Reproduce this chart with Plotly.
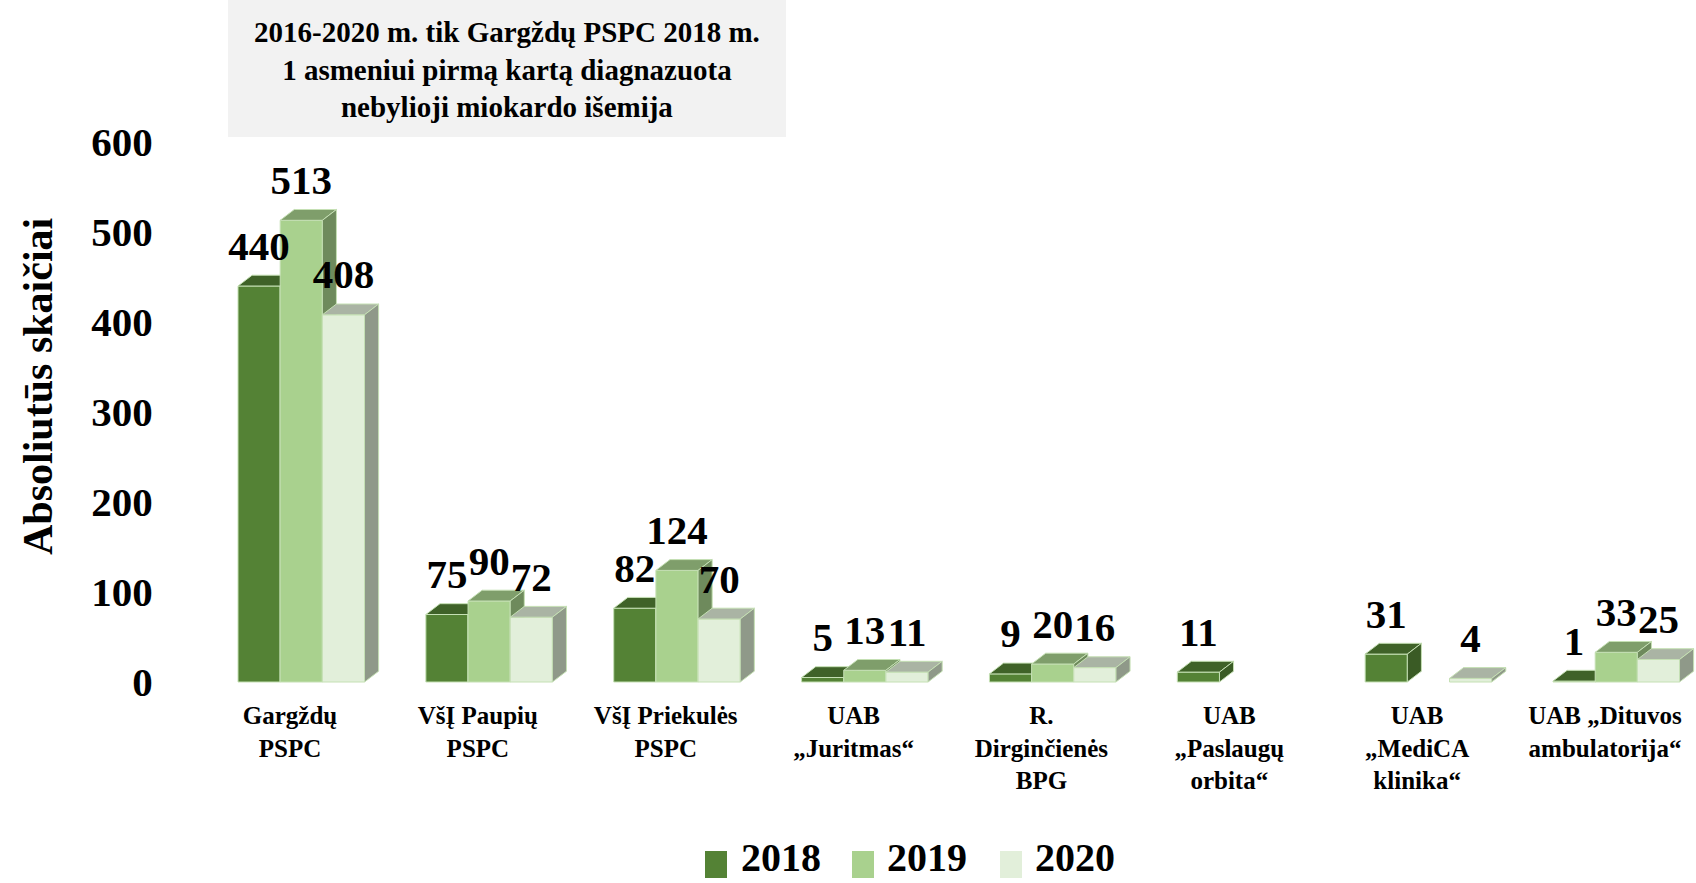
import plotly.graph_objects as go

# ---------------- data ----------------
categories = [
    "Gargždų<br>PSPC",
    "VšĮ Paupių<br>PSPC",
    "VšĮ Priekulės<br>PSPC",
    "UAB<br>„Juritmas“",
    "R.<br>Dirginčienės<br>BPG",
    "UAB<br>„Paslaugų<br>orbita“",
    "UAB<br>„MediCA<br>klinika“",
    "UAB „Dituvos<br>ambulatorija“",
]
years = ["2018", "2019", "2020"]
values_2018 = [440, 75, 82, 5, 9, 11, 31, 1]
values_2019 = [513, 90, 124, 13, 20, None, None, 33]
values_2020 = [408, 72, 70, 11, 16, None, 4, 25]
y_ticks = [0, 100, 200, 300, 400, 500, 600]

series = [values_2018, values_2019, values_2020]

# ---------------- style ----------------
FONT = "Liberation Serif, Times New Roman, serif"
front_colors = ["#548235", "#A9D18E", "#E2EFDA"]
top_colors = ["#3F6228", "#7F9E6B", "#AAB4A4"]
side_colors = ["#3A5B25", "#6E8A5C", "#8F9989"]
edge_color = "#C5E0B4"

bar_w = 0.2245          # width of one bar (category units)
group_shift = 0.06      # group centre relative to tick
depth_x = 0.075         # 3D depth, horizontal (category units)
depth_y = 12            # 3D depth, vertical (value units)
label_gap = 6           # extra gap above the bar top (value units)

fig = go.Figure()

for s, vals in enumerate(series):
    fx, fy, tx, ty, sx, sy = [], [], [], [], [], []
    for i, v in enumerate(vals):
        if v is None:
            continue
        x0 = i + group_shift + (s - 1.5) * bar_w
        x1 = x0 + bar_w
        # front face
        fx += [x0, x1, x1, x0, x0, None]
        fy += [0, 0, v, v, 0, None]
        # top face
        tx += [x0, x1, x1 + depth_x, x0 + depth_x, x0, None]
        ty += [v, v, v + depth_y, v + depth_y, v, None]
        # side face
        sx += [x1, x1 + depth_x, x1 + depth_x, x1, x1, None]
        sy += [0, depth_y, v + depth_y, v, 0, None]
    for xs, ys, col in ((fx, fy, front_colors[s]), (tx, ty, top_colors[s]), (sx, sy, side_colors[s])):
        fig.add_trace(go.Scatter(
            x=xs, y=ys, mode="lines", fill="toself", fillcolor=col,
            line=dict(color=edge_color, width=1), showlegend=False,
            hoverinfo="skip",
        ))

# data labels (drawn last so they sit on top)
for s, vals in enumerate(series):
    lx, ly, lt = [], [], []
    for i, v in enumerate(vals):
        if v is None:
            continue
        x0 = i + group_shift + (s - 1.5) * bar_w
        lx.append(x0 + bar_w / 2)
        ly.append(v + depth_y + label_gap)
        lt.append("<b>%d</b>" % v)
    fig.add_trace(go.Scatter(
        x=lx, y=ly, mode="text", text=lt, textposition="top center",
        textfont=dict(family=FONT, size=41, color="black"),
        showlegend=False, hoverinfo="skip", cliponaxis=False,
    ))

# ---------------- layout ----------------
L, R, T, B = 200, 0, 100, 193
W, H = 1696, 883
plot_w = W - L - R
plot_h = H - T - B


def px_x(p):
    return (p - L) / plot_w


def px_y(p):
    return (H - B - p) / plot_h


shapes = [
    dict(type="rect", xref="paper", yref="paper",
         x0=px_x(228), x1=px_x(786), y0=px_y(137), y1=px_y(0),
         fillcolor="#F2F2F2", line=dict(width=0), layer="below"),
]
annotations = [
    dict(xref="paper", yref="paper", x=px_x(507), y=px_y(70),
         text="<b>2016-2020 m. tik Gargždų PSPC 2018 m.<br>1 asmeniui pirmą kartą diagnazuota<br>nebylioji miokardo išemija</b>",
         showarrow=False, font=dict(family=FONT, size=29, color="black"),
         xanchor="center", yanchor="middle", align="center"),
    dict(xref="paper", yref="paper", x=px_x(38), y=px_y(386),
         text="<b>Absoliutūs skaičiai</b>", textangle=-90,
         showarrow=False, font=dict(family=FONT, size=42, color="black"),
         xanchor="center", yanchor="middle"),
]

legend_sq = [(705, 727), (852, 874), (1000, 1022)]
legend_tx = [739, 885, 1033]
for k, yr in enumerate(years):
    shapes.append(dict(type="rect", xref="paper", yref="paper",
                       x0=px_x(legend_sq[k][0]), x1=px_x(legend_sq[k][1]),
                       y0=px_y(878), y1=px_y(851),
                       fillcolor=front_colors[k], line=dict(width=0)))
    annotations.append(dict(xref="paper", yref="paper", x=px_x(legend_tx[k]), y=px_y(882),
                            text="<b>%s</b>" % yr, showarrow=False,
                            font=dict(family=FONT, size=40, color="black"),
                            xanchor="left", yanchor="bottom"))

x_lo = (L - 290) / 187.86
x_hi = 7 + (W - R - 1605) / 187.86
y0_px = 682
scale = 0.9
y_lo = (y0_px - (H - B)) / scale
y_hi = (y0_px - T) / scale

fig.update_layout(
    width=W, height=H,
    margin=dict(l=L, r=R, t=T, b=B, pad=0),
    paper_bgcolor="white", plot_bgcolor="white",
    showlegend=False,
    font=dict(family=FONT, color="black"),
    shapes=shapes, annotations=annotations,
    xaxis=dict(
        range=[x_lo, x_hi], tickmode="array",
        tickvals=list(range(len(categories))),
        ticktext=["<b>%s</b>" % c for c in categories],
        tickfont=dict(family=FONT, size=25, color="black"),
        showgrid=False, zeroline=False, showline=False,
        ticks="outside", ticklen=3, tickcolor="rgba(0,0,0,0)",
        fixedrange=True,
    ),
    yaxis=dict(
        range=[y_lo, y_hi], tickmode="array", tickvals=y_ticks,
        ticktext=["<b>%d</b>" % t for t in y_ticks],
        tickfont=dict(family=FONT, size=41, color="black"),
        showgrid=False, zeroline=False, showline=False,
        ticks="outside", ticklen=38, tickcolor="rgba(0,0,0,0)",
        fixedrange=True,
    ),
)

fig.write_html(
    "out.html",
    config={"displayModeBar": False},
    post_script="document.body.style.margin='0';document.body.style.overflow='hidden';",
)
